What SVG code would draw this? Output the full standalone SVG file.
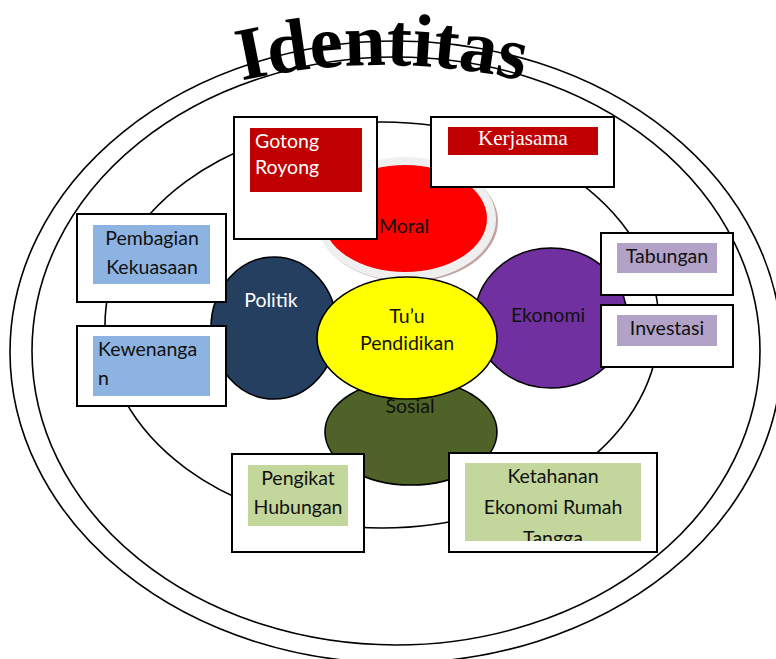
<svg xmlns="http://www.w3.org/2000/svg" width="776" height="659" viewBox="0 0 776 659">
<style>
.ring{fill:none;stroke:#000;stroke-width:1.6}
.box{fill:#fff;stroke:#000;stroke-width:2}
.node{stroke:#000;stroke-width:1.6}
.t{font-family:Lato,"Open Sans",sans-serif;font-size:19.5px;fill:#111}
.c{text-anchor:middle}
.w{fill:#fff}
.title{font-family:"Liberation Serif","Times New Roman",serif;font-weight:bold;font-size:75px;fill:#000}
</style>
<defs>
<path id="arc" d="M162,104 A640,640 0 0,1 602,104"/>
<clipPath id="clipK"><rect x="465" y="463" width="176" height="78"/></clipPath>
</defs>
<rect width="776" height="659" fill="#fff"/>
<g id="rings">
<ellipse class="ring" cx="396" cy="352" rx="386" ry="311"/>
<ellipse class="ring" cx="396" cy="351" rx="364" ry="294"/>
<ellipse class="ring" cx="382" cy="325" rx="277" ry="203"/>
</g>
<g id="title">
<text class="title"><textPath href="#arc" startOffset="50%" text-anchor="middle">Identitas</textPath></text>
</g>
<g id="moral">
<ellipse cx="408" cy="221" rx="90" ry="61" fill="#c4a2a2"/>
<ellipse cx="406" cy="219" rx="90" ry="62" fill="#efefef"/>
<ellipse cx="405" cy="218.5" rx="82" ry="53.5" fill="#ff0000"/>
<text class="t c" x="404" y="233">Moral</text>
</g>
<g id="politik">
<ellipse class="node" cx="274" cy="328" rx="63" ry="71" fill="#243f60"/>
<text class="t c w" x="271" y="307">Politik</text>
</g>
<g id="ekonomi">
<ellipse class="node" cx="551" cy="318" rx="76" ry="70" fill="#7030a0"/>
<text class="t c" x="548" y="322">Ekonomi</text>
</g>
<g id="sosial">
<ellipse class="node" cx="411" cy="432" rx="86" ry="53" fill="#4f6228"/>
<text class="t c" x="410" y="413">Sosial</text>
</g>
<g id="pendidikan">
<ellipse class="node" cx="407" cy="338" rx="90" ry="61" fill="#ffff00"/>
<text class="t c" x="407" y="323">Tu’u</text>
<text class="t c" x="407" y="350">Pendidikan</text>
</g>
<g id="gotong-royong">
<rect class="box" x="234" y="117" width="143" height="122"/>
<rect x="250" y="128" width="112" height="64" fill="#c00000"/>
<text class="t w" x="255" y="148">Gotong</text>
<text class="t w" x="255" y="174">Royong</text>
</g>
<g id="kerjasama">
<rect class="box" x="431" y="117" width="183" height="70"/>
<rect x="448" y="127" width="150" height="28" fill="#c00000"/>
<text x="523" y="145" text-anchor="middle" font-family="'Liberation Serif','Times New Roman',serif" font-size="21" fill="#fff">Kerjasama</text>
</g>
<g id="pembagian-kekuasaan">
<rect class="box" x="77" y="214" width="149" height="88"/>
<rect x="93" y="225" width="117" height="59" fill="#8db3e2"/>
<text class="t c" x="152" y="245">Pembagian</text>
<text class="t c" x="152" y="274">Kekuasaan</text>
</g>
<g id="kewenangan">
<rect class="box" x="77" y="326" width="149" height="80"/>
<rect x="93" y="336" width="117" height="60" fill="#8db3e2"/>
<text class="t" x="98" y="356">Kewenanga</text>
<text class="t" x="98" y="385">n</text>
</g>
<g id="tabungan">
<rect class="box" x="601" y="233" width="132" height="62"/>
<rect x="617" y="243" width="100" height="30" fill="#b2a2c7"/>
<text class="t c" x="667" y="263">Tabungan</text>
</g>
<g id="investasi">
<rect class="box" x="601" y="305" width="132" height="62"/>
<rect x="617" y="315" width="100" height="31" fill="#b2a2c7"/>
<text class="t c" x="667" y="335">Investasi</text>
</g>
<g id="pengikat-hubungan">
<rect class="box" x="232" y="454" width="132" height="98"/>
<rect x="248" y="465" width="100" height="61" fill="#c3d69b"/>
<text class="t c" x="298" y="485">Pengikat</text>
<text class="t c" x="298" y="514">Hubungan</text>
</g>
<g id="ketahanan-ekonomi">
<rect class="box" x="449" y="453" width="208" height="99"/>
<rect x="465" y="463" width="176" height="78" fill="#c3d69b"/>
<g clip-path="url(#clipK)">
<text class="t c" x="553" y="483">Ketahanan</text>
<text class="t c" x="553" y="514">Ekonomi Rumah</text>
<text class="t c" x="553" y="545">Tangga</text>
</g>
</g>
</svg>
